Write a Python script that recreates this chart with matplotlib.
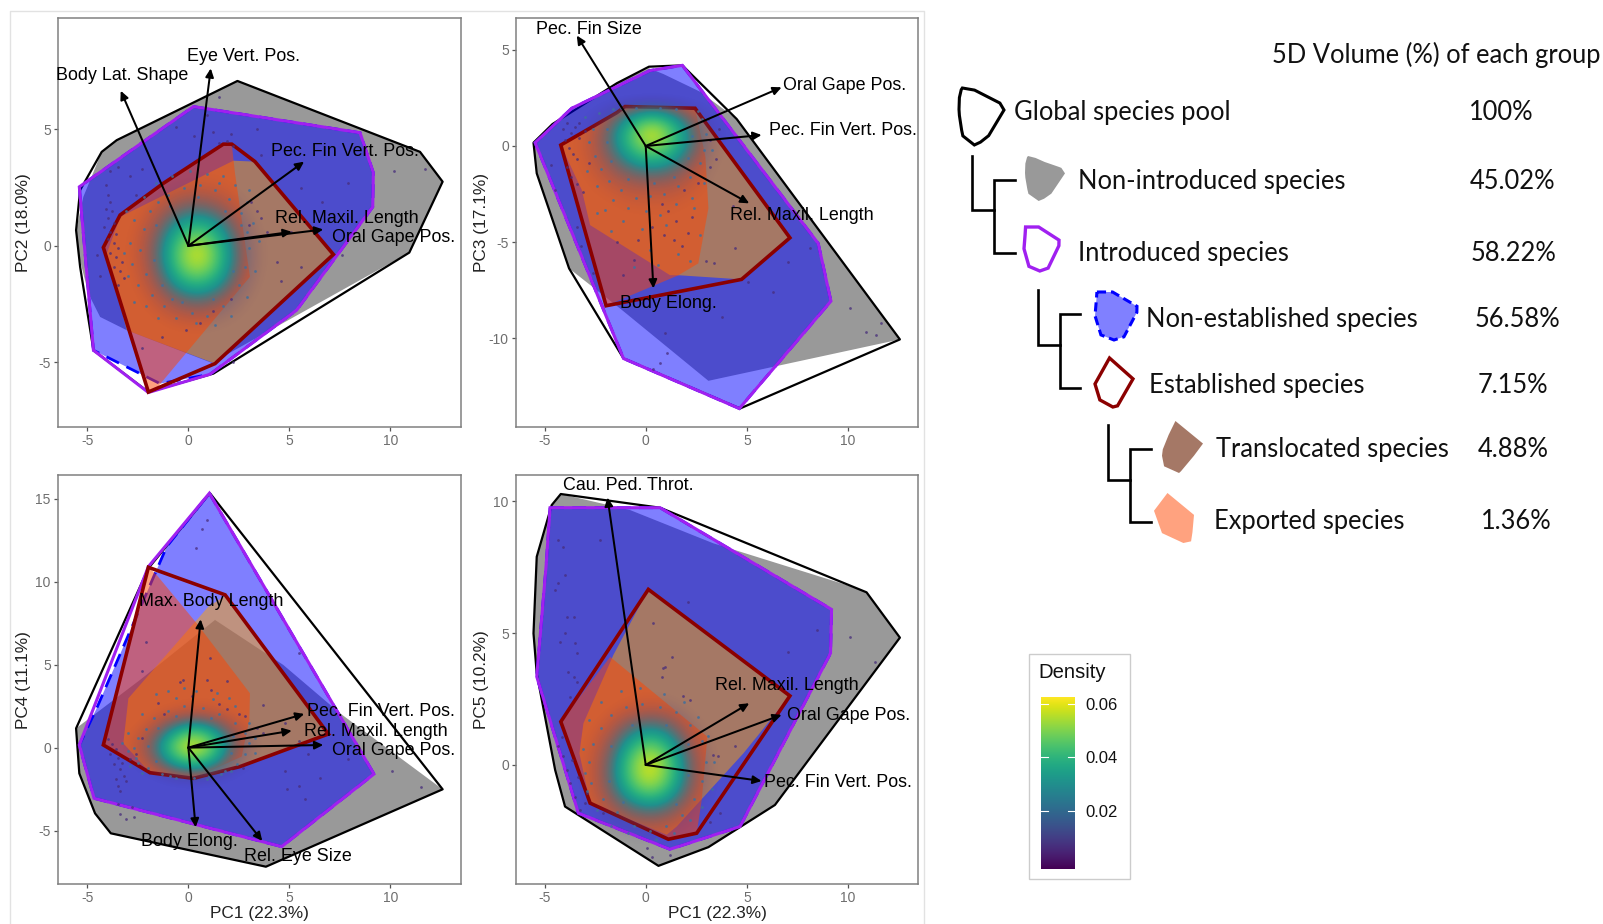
import matplotlib
matplotlib.use('Agg')
import matplotlib.pyplot as plt
import numpy as np
from matplotlib.colors import ListedColormap
from matplotlib.patches import Polygon, Rectangle

plt.rcParams['font.family'] = ['Liberation Sans', 'DejaVu Sans']
plt.rcParams['axes.unicode_minus'] = False

W, H = 1603, 924

# PC1 / PC2
global_12 = [(2.43, 7.07), (11.47, 4.03), (12.59, 2.75), (10.94, -0.29), (1.24, -5.48), (-1.98, -6.27), (-4.70, -4.48),
             (-5.36, -0.90), (-5.56, 0.67), (-5.36, 2.39), (-4.29, 4.03), (-3.55, 4.53)]
nonintro_12 = [(2.43, 7.07), (11.47, 4.03), (12.59, 2.75), (10.94, -0.29), (1.16, -5.02), (-3.05, -3.62), (-4.37, -3.05),
               (-4.95, -2.05), (-5.45, -0.33), (-5.56, 0.67), (-5.2, 2.1), (-4.29, 4.03), (-3.55, 4.53)]
intro_12 = [(0.25, 5.97), (8.50, 4.85), (9.16, 3.13), (9.13, 1.67), (5.36, -2.76), (1.07, -5.51), (-1.98, -6.29),
            (-4.70, -4.48), (-5.40, 2.53)]
nonest_12 = [(0.25, 5.97), (8.50, 4.85), (9.16, 3.13), (9.13, 1.67), (5.36, -2.76), (1.07, -5.51), (-1.40, -5.91),
             (-4.70, -4.48), (-5.40, 2.53)]
estab_12 = [(1.73, 4.36), (2.15, 4.36), (3.30, 3.61), (7.18, -0.37), (1.32, -5.05), (-1.98, -6.27), (-4.21, -0.07),
            (-3.38, 1.32), (-1.24, 2.68)]
transl_12 = [(2.23, 3.65), (3.30, 3.61), (7.18, -0.37), (1.32, -5.05), (-3.05, -3.62), (-4.04, -0.33), (-3.38, 1.24)]
export_12 = [(1.73, 4.36), (2.15, 4.36), (2.31, 3.10), (3.05, -1.33), (-1.65, -6.19), (-1.98, -6.27), (-4.21, -0.07),
             (-3.38, 1.32), (-1.24, 2.68)]

# PC1 / PC3
global_13 = [(0.16, 4.12), (1.81, 4.19), (4.50, 1.40), (12.57, -10.05), (4.66, -13.64), (-1.10, -11.04), (-3.79, -6.36),
             (-5.39, -1.42), (-5.55, 0.17), (-4.61, 1.14), (-1.43, 3.26)]
nonintro_13 = [(0.16, 4.04), (0.87, 3.74), (2.69, 2.82), (4.50, 1.40), (12.57, -10.05), (3.10, -12.20), (-1.27, -8.44),
               (-3.79, -6.36), (-5.39, -1.42), (-5.55, 0.17), (-4.61, 1.14), (-1.43, 3.26)]
intro_13 = [(1.81, 4.19), (8.53, -5.06), (9.16, -8.06), (4.63, -13.64), (-1.10, -11.04), (-5.47, 0.17), (-3.66, 1.96),
            (0.21, 3.92)]
nonest_13 = intro_13
estab_13 = [(-1.02, 2.05), (2.44, 1.96), (7.13, -4.77), (4.74, -6.93), (-1.96, -8.30), (-4.20, 0.05), (-1.43, 1.73)]
transl_13 = [(-1.02, 2.05), (2.44, 1.96), (7.13, -4.77), (4.74, -6.93), (1.70, -6.72), (1.20, -6.71), (-2.75, -4.11),
             (-3.16, -2.29), (-4.20, 0.05), (-1.43, 1.73)]
export_13 = [(-1.02, 2.05), (2.44, 1.96), (2.95, -0.55), (3.10, -3.24), (2.60, -6.10), (1.61, -6.72), (-1.96, -8.30),
             (-4.20, 0.05), (-1.43, 1.73)]

# PC1 / PC4
global_14 = [(1.07, 15.32), (12.59, -2.51), (3.84, -7.17), (-3.84, -5.16), (-4.62, -3.96), (-5.40, -1.55), (-5.56, 1.16),
             (-1.98, 10.80)]
nonintro_14 = [(12.59, -2.51), (3.84, -7.17), (-3.84, -5.16), (-4.62, -3.96), (-5.40, -1.55), (-5.56, 1.16), (-2.39, 4.08),
               (1.32, 7.69), (4.70, 4.98), (7.51, 2.07)]
intro_14 = [(1.04, 15.32), (9.19, -1.59), (4.62, -5.96), (-4.67, -3.05), (-5.40, 0.16), (-1.98, 10.90)]
nonest_14 = [(1.04, 15.32), (9.19, -1.59), (4.62, -5.96), (-4.67, -3.05), (-5.40, 0.16), (-4.54, 2.37), (-1.07, 12.11)]
estab_14 = [(-1.98, 10.86), (1.82, 9.20), (6.93, 0.82), (2.56, -1.14), (0.25, -1.85), (-1.90, -1.51), (-4.21, 0.16)]
transl_14 = [(0.99, 8.49), (1.90, 9.20), (6.93, 0.82), (2.56, -1.14), (0.25, -1.85), (-1.90, -1.51), (-3.22, 0.26),
             (-2.97, 2.97)]
export_14 = [(-1.98, 10.86), (-1.57, 10.40), (0.41, 7.49), (3.05, 3.27), (3.02, 1.67), (2.64, -0.54), (0.25, -1.85),
             (-1.90, -1.51), (-4.21, 0.16)]

# PC1 / PC5
global_15 = [(-4.20, 10.28), (-4.65, 9.86), (-5.39, 7.90), (-5.55, 4.99), (-5.39, 3.48), (-4.48, -0.19), (-3.99, -1.58),
             (0.63, -3.83), (3.10, -3.12), (6.39, -1.52), (12.57, 4.83), (10.92, 6.55), (0.71, 9.76)]
nonintro_15 = [(-4.20, 10.28), (-0.77, 9.67), (3.34, 8.41), (9.93, 6.83), (10.92, 6.55), (12.57, 4.83), (6.39, -1.52),
               (3.10, -3.12), (0.63, -3.83), (-3.99, -1.58), (-4.48, -0.19), (-5.39, 3.48), (-5.55, 4.99), (-5.39, 7.90),
               (-4.65, 9.86)]
intro_15 = [(-4.73, 9.76), (0.71, 9.76), (9.19, 5.90), (9.14, 4.24), (4.66, -2.34), (1.20, -3.20), (-3.33, -1.83),
            (-5.39, 3.35), (-4.93, 7.52)]
nonest_15 = intro_15
estab_15 = [(0.13, 6.66), (7.13, 2.62), (2.52, -2.59), (1.12, -2.82), (-2.75, -1.45), (-4.20, 1.64)]
transl_15 = [(0.13, 6.66), (7.13, 2.62), (4.83, 0.44), (1.53, -2.34), (1.04, -2.65), (-2.75, -1.45), (-3.28, 0.44),
             (-3.08, 1.58), (-1.60, 4.17)]
export_15 = [(-1.76, 4.10), (3.05, 1.07), (2.77, -1.33), (2.52, -2.59), (1.12, -2.82), (-2.75, -1.45), (-4.20, 1.64)]

# density read by eye, rows from top to bottom
dens_x_12 = [-3.6, -2.6, -1.6, -0.6, 0.4, 1.4, 2.4, 3.4, 4.4]
dens_y_12 = [3.6, 2.6, 1.6, 0.6, -0.4, -1.4, -2.4, -3.4, -4.4]
dens_12 = [[0, .001, .002, .003, .003, .003, .002, .001, 0],
           [.001, .002, .004, .007, .008, .007, .004, .002, .001],
           [.002, .004, .011, .020, .025, .020, .011, .004, .002],
           [.003, .007, .020, .040, .048, .040, .020, .007, .002],
           [.003, .008, .025, .048, .064, .048, .025, .008, .003],
           [.002, .007, .019, .040, .048, .040, .020, .007, .002],
           [.001, .004, .010, .019, .024, .019, .010, .004, .001],
           [0, .002, .004, .006, .007, .006, .004, .002, .001],
           [0, 0, .001, .002, .002, .002, .001, 0, 0]]
dens_x_13 = [-3.7, -2.7, -1.7, -0.7, 0.3, 1.3, 2.3, 3.3, 4.3]
dens_y_13 = [2.7, 1.7, 0.7, -0.3, -1.3, -2.3, -3.3, -4.3, -5.3]
dens_13 = [[0, 0, 0, 0, 0, 0, 0, 0, 0],
           [.002, .006, .016, .030, .036, .030, .016, .006, .002],
           [.004, .011, .028, .048, .064, .048, .028, .010, .003],
           [.004, .011, .025, .042, .050, .042, .024, .009, .003],
           [.003, .008, .016, .024, .028, .024, .014, .006, .002],
           [.002, .005, .008, .012, .012, .012, .008, .004, .001],
           [.001, .003, .004, .006, .006, .006, .004, .002, .001],
           [0, .001, .002, .003, .003, .004, .002, .001, 0],
           [0, 0, .001, .001, .001, .002, .001, 0, 0]]
dens_x_14 = [-3.8, -2.8, -1.8, -0.8, 0.2, 1.2, 2.2, 3.2, 4.2]
dens_y_14 = [4.1, 3.1, 2.1, 1.1, 0.1, -0.9, -1.9, -2.9]
dens_14 = [[0, 0, .001, .002, .002, .002, .001, 0, 0],
           [0, .001, .002, .003, .004, .004, .003, .001, 0],
           [.001, .002, .005, .009, .012, .010, .006, .003, .001],
           [.002, .005, .014, .032, .044, .034, .016, .006, .002],
           [.003, .008, .024, .050, .064, .050, .024, .008, .002],
           [.002, .006, .018, .036, .046, .036, .016, .006, .002],
           [0, .001, .004, .010, .012, .010, .004, .001, 0],
           [0, 0, 0, 0, 0, 0, 0, 0, 0]]
dens_x_15 = [-3.8, -2.8, -1.8, -0.8, 0.2, 1.2, 2.2, 3.2, 4.2]
dens_y_15 = [3.2, 2.2, 1.2, 0.2, -0.8, -1.8, -2.8, -3.8]
dens_15 = [[0, 0, .001, .002, .002, .002, .001, 0, 0],
           [.001, .002, .004, .007, .009, .008, .004, .002, .001],
           [.002, .005, .014, .030, .037, .030, .013, .005, .002],
           [.003, .008, .024, .048, .064, .048, .023, .008, .002],
           [.003, .008, .024, .046, .058, .045, .022, .007, .002],
           [.002, .005, .012, .020, .024, .020, .010, .004, .001],
           [.001, .002, .004, .005, .006, .005, .003, .001, 0],
           [0, 0, .001, .001, .001, .001, 0, 0, 0]]

# outlying species, read by eye
pts_12 = [(-4.1, 2.6), (-4.0, 2.2), (-3.9, 1.9), (-4.1, 1.6), (-3.8, 1.5), (-4.0, 1.2), (-3.7, 1.0), (-4.2, 0.8), (-3.9, 0.6),
          (-3.6, 0.5), (-4.0, 0.3), (-3.7, 0.1), (-3.5, -0.1), (-3.9, -0.3), (-3.6, -0.5), (-3.3, -0.7), (-3.7, -0.9),
          (-3.4, -1.1), (-3.2, -1.4), (-3.5, -1.7), (-4.4, -1.3), (-4.5, -0.4), (-3.9, 3.2), (-3.5, 3.4), (-2.9, 3.0),
          (-2.6, 2.2), (-2.3, 3.3), (-0.6, 5.1), (0.3, 4.7), (1.2, 4.9), (1.9, 4.5), (2.1, 4.8), (2.2, 4.3), (1.5, 4.4),
          (3.4, 5.0), (1.5, 6.4), (0.9, 5.6), (3.6, 3.9), (3.1, 1.9), (3.4, 1.5), (3.6, 1.2), (3.0, 0.9), (3.9, 0.6),
          (4.4, -0.7), (5.6, -0.9), (5.1, 0.6), (5.6, 2.5), (6.6, 1.9), (7.9, 2.7), (10.2, 3.2), (11.7, 3.3), (7.6, -0.4),
          (4.6, -1.5), (2.2, -5.0), (2.1, -2.3), (-0.1, -3.6), (-1.3, -3.9), (-2.3, -4.4), (0.6, -3.3), (1.2, -2.8)]
pts_13 = [(-4.1, 0.9), (-3.9, 1.2), (-3.7, 0.7), (-3.5, 1.0), (-3.3, 0.4), (-4.0, 0.3), (-3.8, -0.1), (-3.6, -0.4), (-3.4, -0.7),
          (-3.9, -1.1), (-3.7, -1.6), (-3.4, -2.0), (-3.1, -2.4), (-3.3, 1.2), (-3.0, 0.8), (-2.8, -0.9), (-4.7, -1.0),
          (-4.5, -2.3), (-3.4, -4.2), (-3.2, -5.2), (-2.6, -6.6), (-1.4, -5.0), (-1.1, -6.7), (-0.6, -5.9), (-0.4, -4.9),
          (0.3, -4.2), (0.9, -4.6), (1.1, -3.4), (1.4, -4.9), (1.5, -3.9), (1.8, -5.2), (2.1, -4.5), (2.3, -3.7), (0.8, -3.0),
          (1.9, -2.3), (2.6, -1.9), (3.2, -1.1), (3.5, -0.7), (3.2, 0.3), (3.6, 0.9), (3.1, 1.4), (4.4, -5.3), (3.4, -6.1),
          (3.0, -6.0), (4.3, -3.1), (3.76, -8.87), (0.96, -9.74), (1.04, -10.78), (0.71, -11.3), (0.38, -11.6), (10.1, -8.44),
          (10.9, -9.69), (11.66, -9.2), (11.4, -9.83), (8.12, -5.32), (7.05, -6.01), (6.31, -7.57), (5.07, -7.05)]
pts_14 = [(-4.0, 0.5), (-3.8, 0.2), (-3.6, -0.1), (-3.9, -0.4), (-3.5, -0.6), (-3.3, -0.9), (-3.7, -1.0), (-3.4, -1.3),
          (-3.2, -1.7), (-3.6, -1.9), (-3.5, -2.3), (-3.1, -2.0), (-3.4, -2.6), (-3.5, -3.4), (-3.4, -4.0), (-3.1, -4.3),
          (-2.7, -4.2), (-2.8, -3.6), (-2.9, -0.7), (-2.6, -0.4), (-2.3, 0.6), (-1.5, 2.7), (-1.2, 2.0), (0.2, 3.1), (1.1, 3.5),
          (1.5, 2.6), (1.9, 2.3), (2.5, 2.0), (2.8, 1.9), (3.4, 1.2), (3.7, 0.9), (4.8, 1.5), (5.5, 0.4), (5.9, -0.4),
          (4.8, -1.4), (4.9, -2.5), (5.5, -2.3), (5.8, -3.1), (10.1, -1.4), (11.5, -2.4), (7.9, -0.7), (6.5, -1.8), (0.66, 13.15),
          (0.94, 13.7), (0.38, 12.0), (-2.1, 6.39), (-2.3, 4.6), (1.07, 5.4), (1.9, 4.0), (0.9, 4.1), (-0.25, 4.1), (-0.41, 3.95),
          (5.48, 5.68), (3.7, 2.57), (2.7, -1.2)]
pts_15 = [(-3.99, 4.99), (-4.32, 8.53), (-2.26, 8.53), (-4.07, 8.28), (-3.99, 7.2), (-4.48, 6.64), (-4.32, 6.89), (-3.9, 5.63),
          (-3.57, 5.63), (-4.23, 4.68), (-3.49, 4.61), (-3.41, 4.24), (-3.82, 3.54), (-3.57, 3.35), (-3.74, 2.59), (-3.41, 3.16),
          (2.11, 6.2), (1.29, 4.1), (0.38, 5.4), (0.96, 3.7), (8.45, 5.12), (7.05, 4.27), (10.1, 4.84), (11.33, 3.89), (2.18, 2.47),
          (1.85, 2.6), (0.79, 3.35), (0.87, 3.66), (4.41, 0.7), (3.34, 0.38), (3.59, 0.32), (3.67, -1.84), (3.18, -2.15), (1.2, -3.41),
          (0.3, -3.48), (0.05, -3.16), (-4.15, 1.07), (-4.07, 0.32), (-3.9, -0.19), (-3.74, -0.7), (-3.49, -1.2), (-3.25, -1.71),
          (-4.32, 0.7), (-3.66, 0.19), (-3.33, -0.44), (-2.92, -1.07), (-3.0, -1.45), (-2.09, -1.83)]

# species on the rim of the dense cloud, read by eye
rim_12 = [(-1.9, 1.5), (-2.2, 0.7), (-2.4, -0.2), (-2.1, -1.2), (-1.8, -2.1), (-1.2, -2.6), (-0.6, -3.1), (0.2, -2.9), (0.9, -3.0),
          (1.7, -2.6), (2.5, -1.7), (2.8, -0.9), (3.0, -0.1), (2.9, 0.6), (2.6, 1.4), (2.0, 2.0), (1.3, 2.4), (0.6, 2.6), (-0.2, 2.5),
          (-1.0, 2.2), (-1.5, 1.9), (-2.7, 1.1), (-2.9, 0.1), (-2.8, -0.8), (-2.5, -1.7), (-2.1, -2.6), (-1.5, -3.1), (-0.8, -2.3),
          (0.4, -3.3), (1.3, -3.4), (2.1, -3.0), (2.9, -2.2), (3.3, -1.1), (3.5, 0.2), (3.2, 1.0), (2.9, 1.9), (2.3, 2.6), (1.7, 3.0),
          (0.9, 3.1), (0.1, 3.2), (-0.8, 3.0), (-1.6, 2.7), (-2.2, 2.1), (-1.6, 0.9), (-1.7, -0.6), (-1.3, -1.7), (-0.3, -2.4),
          (1.2, -2.3), (2.2, -1.1), (2.3, 0.3), (1.8, 1.5), (0.5, 2.1), (-0.9, 1.7), (-3.1, 1.5), (-3.2, -0.3), (-3.0, -1.3),
          (-2.7, -2.4), (1.5, 2.7), (2.6, 0.9), (3.0, 2.4)]
rim_13 = [(-2.3, 1.7), (-2.6, 0.9), (-2.8, 0.2), (-2.5, -0.5), (-2.2, -1.2), (-1.8, -1.8), (-1.2, -2.3), (-0.5, -2.7), (0.2, -2.6),
          (0.9, -2.5), (1.6, -2.1), (2.2, -1.6), (2.7, -0.9), (2.9, -0.2), (3.0, 0.6), (2.8, 1.4), (-1.6, 1.9), (-0.9, -1.7), (0.4, -1.9),
          (1.4, -1.6), (2.1, -0.6), (2.3, 0.5), (-1.9, 0.2), (-1.7, -0.8), (-2.9, -1.3), (-2.4, -2.1), (-1.6, -2.8), (-0.9, -3.2),
          (0.0, -3.4), (0.7, -3.6), (1.5, -3.0), (2.3, -2.7), (2.9, -1.9), (3.3, -0.2), (-3.0, 1.5), (-1.1, -3.9), (-2.0, -3.3),
          (-0.2, -4.3), (1.0, -4.1), (2.4, -3.2), (2.7, -4.6), (1.6, -5.6), (0.2, -5.4), (-1.7, -4.4), (-2.4, -3.5), (-0.6, -6.3),
          (0.6, -6.2), (2.2, -6.0), (-1.9, 0.9), (2.6, 1.8), (-0.5, 1.95), (0.7, 1.95), (1.5, 1.9), (-1.2, 1.95)]
rim_14 = [(-2.1, 1.1), (-2.5, 0.6), (-2.7, 0.0), (-2.6, -0.6), (-2.0, -1.2), (-1.3, -1.6), (-0.6, -1.8), (0.3, -1.8), (1.0, -1.7),
          (1.8, -1.4), (2.4, -1.0), (2.8, -0.4), (3.0, 0.3), (2.8, 0.9), (2.3, 1.5), (1.5, 2.0), (0.7, 2.4), (-0.2, 2.5), (-1.0, 2.2),
          (-1.7, 1.8), (-2.0, 0.1), (-1.6, -0.8), (2.1, -0.3), (2.2, 0.7), (1.1, 1.8), (-0.6, 1.9), (-1.5, 1.2), (-3.0, 0.9),
          (-3.0, -0.2), (-2.9, -1.1), (-2.3, -1.5), (3.3, -0.3), (3.3, 0.6), (3.0, 1.5), (2.3, 2.5), (1.2, 2.9), (0.4, 3.4),
          (-0.6, 3.0), (-1.6, 3.2), (-2.3, 2.0), (0.9, -1.9), (2.1, -1.4), (1.4, 3.3), (-0.2, 3.6), (2.0, 3.0), (-1.0, 3.4),
          (-3.3, 0.3), (-0.9, -1.7), (1.6, -1.6), (-2.5, -0.9)]
rim_15 = [(-2.2, 1.4), (-2.6, 0.8), (-2.8, 0.1), (-2.7, -0.7), (-2.1, -1.3), (-1.4, -1.8), (-0.6, -2.3), (0.2, -2.5), (1.0, -2.3),
          (1.8, -1.9), (2.4, -1.3), (2.8, -0.6), (3.0, 0.1), (2.8, 0.9), (2.2, 1.5), (1.5, 2.0), (0.7, 2.2), (-0.2, 2.3), (-1.0, 2.2),
          (-1.7, 1.9), (-3.1, 0.6), (-3.0, -0.3), (-2.9, -1.0), (-2.4, -1.7), (-1.7, -2.3), (-0.9, -2.6), (0.5, -2.8), (1.4, -2.6),
          (2.2, -2.1), (2.8, -1.6), (3.3, -0.9), (3.4, 0.1), (3.1, 1.1), (2.6, 1.8), (1.9, 2.4), (0.9, 2.7), (-0.3, 2.9), (-1.2, 2.8),
          (-2.2, 2.4), (-2.8, 1.7), (-1.7, 0.7), (-1.8, -0.6), (-1.1, -1.4), (1.5, -1.5), (2.1, -0.4), (2.1, 0.8), (1.0, 1.5), (-0.7, 1.5)]

# loadings: name, arrow tip x, y, label centre x, y
load_12 = [('Body Lat. Shape', -3.35, 6.65, -3.27, 7.37), ('Eye Vert. Pos.', 1.11, 7.61, 2.72, 8.21),
           ('Pec. Fin Vert. Pos.', 5.73, 3.61, 7.76, 4.11), ('Rel. Maxil. Length', 5.12, 0.60, 7.87, 1.24),
           ('Oral Gape Pos.', 6.68, 0.70, 10.15, 0.46)]
load_13 = [('Pec. Fin Size', -3.41, 5.74, -2.80, 6.15), ('Oral Gape Pos.', 6.72, 3.05, 9.84, 3.22),
           ('Pec. Fin Vert. Pos.', 5.73, 0.57, 9.74, 0.88), ('Rel. Maxil. Length', 5.12, -2.98, 7.71, -3.50),
           ('Body Elong.', 0.38, -7.40, 1.14, -8.06)]
load_14 = [('Max. Body Length', 0.61, 7.73, 1.11, 8.90), ('Pec. Fin Vert. Pos.', 5.74, 2.03, 9.52, 2.31),
           ('Rel. Maxil. Length', 5.12, 1.02, 9.27, 1.06), ('Oral Gape Pos.', 6.68, 0.16, 10.18, -0.08),
           ('Body Elong.', 0.36, -4.80, 0.05, -5.56), ('Rel. Eye Size', 3.66, -5.62, 5.40, -6.43)]
load_15 = [('Cau. Ped. Throt.', -1.89, 10.15, -0.86, 10.66), ('Rel. Maxil. Length', 5.12, 2.34, 6.97, 3.07),
           ('Oral Gape Pos.', 6.72, 1.90, 10.02, 1.96), ('Pec. Fin Vert. Pos.', 5.73, -0.61, 9.52, -0.59)]

group_names = ['Global species pool', 'Non-introduced species', 'Introduced species', 'Non-established species',
               'Established species', 'Translocated species', 'Exported species']
group_volumes = ['100%', '45.02%', '58.22%', '56.58%', '7.15%', '4.88%', '1.36%']

density_ticks = [0.02, 0.04, 0.06]
density_range = (-0.0018, 0.0625)

C_GREY = '#999999'
C_PURPLE = '#a020f0'
C_DARKRED = '#8b0000'

t = np.linspace(0, 1, 256)
rgba = plt.get_cmap('viridis')(t)
rgba[:, 3] = np.clip((t - 0.08) / 0.42, 0, 1) ** 1.3
density_cmap = ListedColormap(rgba)

fig = plt.figure(figsize=(W / 100, H / 100), dpi=100, facecolor='white')


def px_axes(x0, x1, y0, y1, **kw):
    return fig.add_axes([x0 / W, 1 - y1 / H, (x1 - x0) / W, (y1 - y0) / H], **kw)


def panel(rect, xlim, ylim, yticks, hulls, dens_x, dens_y, dens, pts, rim, loads, ylabel, xlabel=None):
    ax = px_axes(*rect)
    glob, nonintro, intro, nonest, estab, transl, export = hulls
    ax.add_patch(Polygon(nonintro, fc=C_GREY, ec='none', zorder=1))
    ax.add_patch(Polygon(glob, fc='none', ec='black', lw=1.6, zorder=2, joinstyle='round'))
    ax.add_patch(Polygon(nonest, fc=(0, 0, 1, 0.5), ec='none', zorder=3))
    ax.add_patch(Polygon(nonest, fc='none', ec='#0000ff', lw=2, ls=(0, (5, 3)), zorder=3))
    ax.add_patch(Polygon(transl, fc=(1, 0.647, 0, 0.5), ec='none', zorder=4))
    ax.add_patch(Polygon(export, fc=(1, 0.271, 0, 0.5), ec='none', zorder=4))
    ax.add_patch(Polygon(intro, fc='none', ec=C_PURPLE, lw=2.2, zorder=5))
    ax.add_patch(Polygon(estab, fc='none', ec=C_DARKRED, lw=2.6, zorder=6))
    dx = dens_x[1] - dens_x[0]
    dy = dens_y[0] - dens_y[1]
    ax.imshow(dens, extent=[dens_x[0] - dx / 2, dens_x[-1] + dx / 2, dens_y[-1] - dy / 2, dens_y[0] + dy / 2],
              cmap=density_cmap, vmin=0, vmax=density_range[1], interpolation='bicubic', aspect='auto', zorder=7)
    px, py = zip(*pts)
    ax.scatter(px, py, s=4, color='#472d7b', alpha=0.75, linewidths=0, zorder=8)
    rx, ry = zip(*rim)
    ax.scatter(rx, ry, s=4, color='#3f6f9c', alpha=0.85, linewidths=0, zorder=8)
    for name, tx, ty, lx, ly in loads:
        ax.annotate('', xy=(tx, ty), xytext=(0, 0), zorder=9,
                    arrowprops=dict(arrowstyle='-|>,head_length=0.42,head_width=0.2', color='black', lw=1.45,
                                    shrinkA=0, shrinkB=0, mutation_scale=12))
        ax.annotate(name, xy=(lx, ly), xytext=(0, -1.4), textcoords='offset points', ha='center', va='center',
                    fontsize=12.9, color='black', zorder=10)
    ax.set_xlim(xlim)
    ax.set_ylim(ylim)
    ax.set_xticks([-5, 0, 5, 10])
    ax.set_yticks(yticks)
    ax.tick_params(length=3, width=0.9, color='#555555', labelcolor='#6e6e6e', labelsize=10, pad=2)
    for s in ax.spines.values():
        s.set_color('#808080')
        s.set_linewidth(1.1)
    ax.set_ylabel(ylabel, fontsize=12.4, color='#222222', va='center')
    ax.yaxis.set_label_coords(-34 / 403, 0.5)
    if xlabel:
        ax.set_xlabel(xlabel, fontsize=12.4, color='#222222', va='center')
        ax.xaxis.set_label_coords(0.5, -29.4 / 409)
    return ax


hulls_12 = [global_12, nonintro_12, intro_12, nonest_12, estab_12, transl_12, export_12]
hulls_13 = [global_13, nonintro_13, intro_13, nonest_13, estab_13, transl_13, export_13]
hulls_14 = [global_14, nonintro_14, intro_14, nonest_14, estab_14, transl_14, export_14]
hulls_15 = [global_15, nonintro_15, intro_15, nonest_15, estab_15, transl_15, export_15]

xlim_a = (-6.47, 13.5)
xlim_b = (-6.43, 13.48)
panel((57.7, 461, 18, 427), xlim_a, (-7.77, 9.77), [-5, 0, 5], hulls_12, dens_x_12, dens_y_12, dens_12, pts_12, rim_12, load_12, 'PC2 (18.0%)')
panel((515.7, 918.3, 18, 427), xlim_b, (-14.6, 6.65), [-10, -5, 0, 5], hulls_13, dens_x_13, dens_y_13, dens_13, pts_13, rim_13, load_13, 'PC3 (17.1%)')
panel((57.7, 461, 475.3, 884.3), xlim_a, (-8.23, 16.4), [-5, 0, 5, 10, 15], hulls_14, dens_x_14, dens_y_14, dens_14, pts_14, rim_14, load_14, 'PC4 (11.1%)', 'PC1 (22.3%)')
panel((515.7, 918.3, 475.3, 884.3), xlim_b, (-4.53, 10.99), [0, 5, 10], hulls_15, dens_x_15, dens_y_15, dens_15, pts_15, rim_15, load_15, 'PC5 (10.2%)', 'PC1 (22.3%)')

# overlay in pixel space for the frame and the legend
ov = fig.add_axes([0, 0, 1, 1], zorder=5)
ov.set_xlim(0, W)
ov.set_ylim(H, 0)
ov.axis('off')
ov.patch.set_alpha(0)
ov.plot([9.5, 9.5, 924.3, 924.3], [H, 11, 11, H], color='#e2e2e2', lw=1)


def icon(poly, box, **kw):
    xs, ys = np.array(poly).T
    x0, x1, y0, y1 = box
    px = x0 + (xs - xs.min()) / (xs.max() - xs.min()) * (x1 - x0)
    py = y0 + (ys.max() - ys) / (ys.max() - ys.min()) * (y1 - y0)
    ov.add_patch(Polygon(np.c_[px, py], **kw))


# the legend icons are the PC1 / PC5 hulls, scaled down
icon(global_15, (959, 1004, 88, 145), fc='none', ec='black', lw=2.2)
icon(nonintro_15, (1025, 1065, 156, 201), fc=C_GREY, ec='none')
icon(intro_15, (1024, 1059, 227, 271), fc='none', ec=C_PURPLE, lw=2.4)
icon(nonest_15, (1095, 1137, 292, 340), fc='#8080ff', ec='#0000ff', lw=2.2, ls=(0, (3, 1.6)))
icon(estab_15, (1095, 1133, 358, 407), fc='none', ec=C_DARKRED, lw=2.4)
icon(transl_15, (1162, 1203, 421, 473), fc='#a57866', ec='none')
icon(export_15, (1154, 1194, 493, 543), fc='#ffa27f', ec='none')

tree_lines = [([972, 972, 994], [156, 210, 210]), ([1015, 994, 994, 1015], [180, 180, 253, 253]),
              ([1037.5, 1037.5, 1060], [290, 345, 345]), ([1080, 1060, 1060, 1080], [314, 314, 388, 388]),
              ([1108, 1108, 1130], [425, 480, 480]), ([1151, 1130, 1130, 1151], [449, 449, 522, 522])]
for lx, ly in tree_lines:
    ov.plot(lx, ly, color='black', lw=1.9, solid_joinstyle='miter')

name_x = [1014, 1078.5, 1078.5, 1146, 1149, 1215.5, 1214.5]
pct_x = [1469, 1470, 1471, 1475, 1478, 1478, 1481]
row_y = [112.6, 181.2, 253.7, 319.2, 385.2, 449.2, 521.2]
legend_font = ['Lato', 'DejaVu Sans']
for name, pct, nx, px_, y in zip(group_names, group_volumes, name_x, pct_x, row_y):
    ov.text(nx, y, name, ha='left', va='center', fontsize=18.4, family=legend_font, color='#111111')
    ov.text(px_, y, pct, ha='left', va='center', fontsize=18.4, family=legend_font, color='#111111')
ov.text(1272, 55, '5D Volume (%) of each group', ha='left', va='center', fontsize=18.4, family=legend_font, color='#111111')

# density colour bar
ov.add_patch(Rectangle((1029.3, 654.3), 101, 224.7, fc='white', ec='#cccccc', lw=1))
ov.text(1038.5, 672.5, 'Density', ha='left', va='center', fontsize=14.6, color='#111111')
cb = px_axes(1040.7, 1074.7, 697.3, 868.7, zorder=6)
cb.imshow(np.linspace(1, 0, 256)[:, None], cmap='viridis', aspect='auto',
          extent=[0, 1, density_range[0], density_range[1]])
cb.set_xticks([])
cb.yaxis.tick_right()
cb.set_yticks(density_ticks)
cb.set_yticklabels(['%.2f' % v for v in density_ticks], fontsize=12, color='#111111')
cb.tick_params(axis='y', length=0, pad=8)
for s in cb.spines.values():
    s.set_visible(False)
for v in density_ticks:
    cb.plot([0, 0.2], [v, v], color='white', lw=0.8)
    cb.plot([0.8, 1], [v, v], color='white', lw=0.8)
cb.set_xlim(0, 1)
cb.set_ylim(*density_range)

fig.savefig('out.png', dpi=100)
